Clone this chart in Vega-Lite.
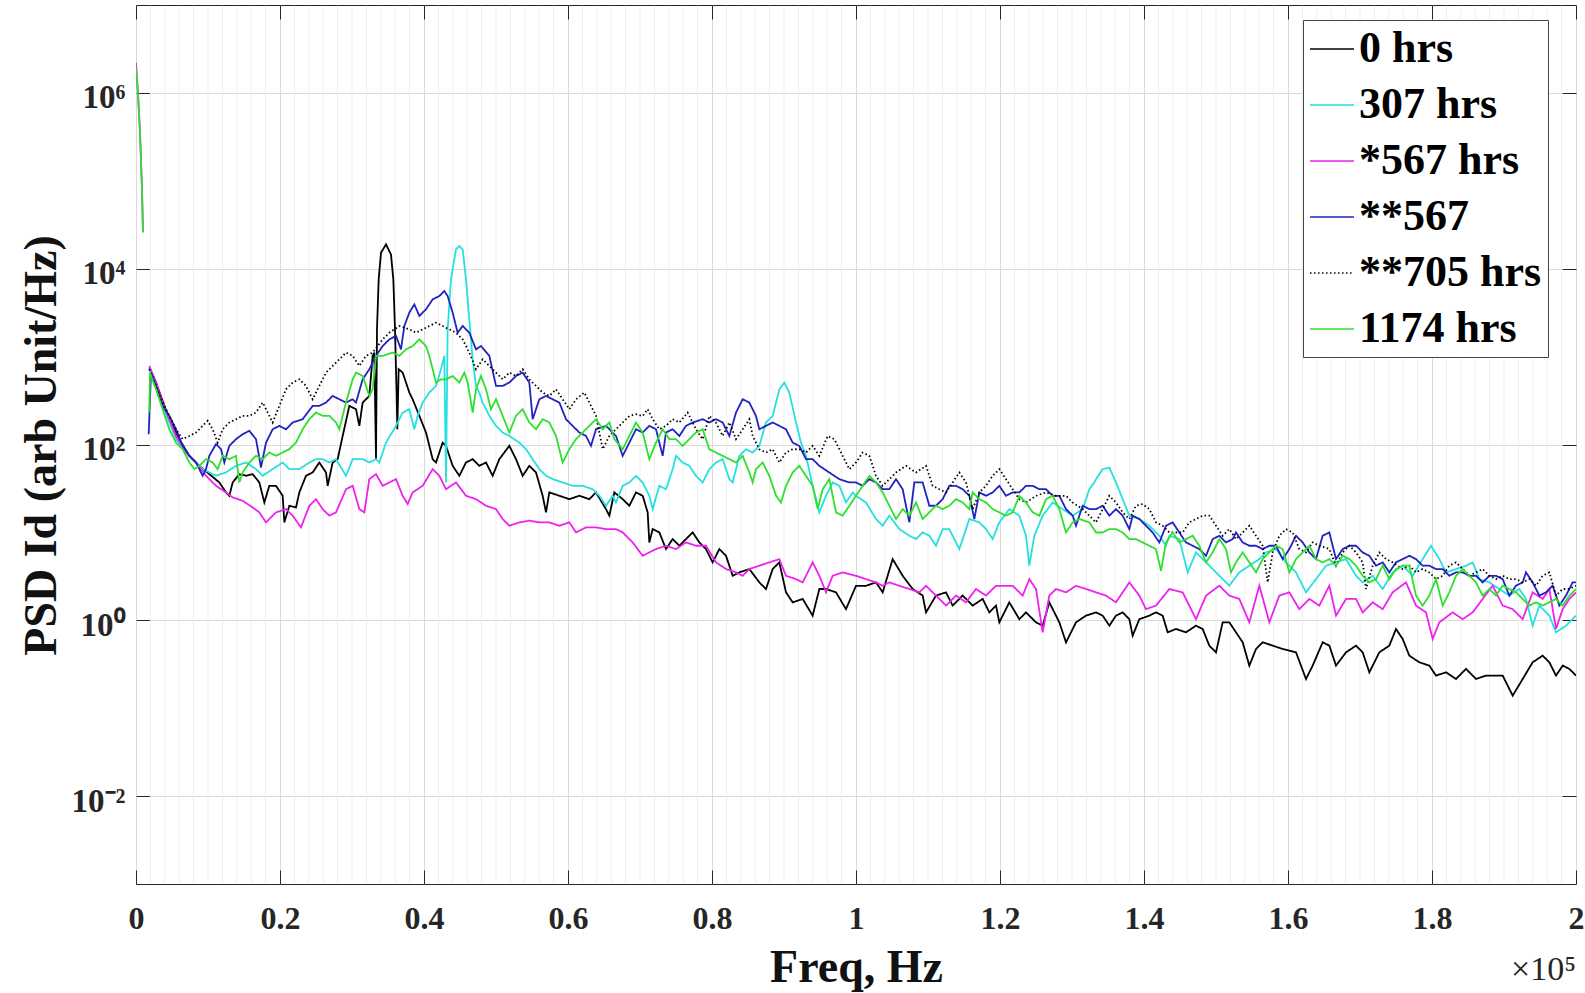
{
"$schema":"https://vega.github.io/schema/vega-lite/v6.json",
"width":1440,"height":879,
"autosize":{"type":"none"},
"padding":{"left":136,"top":5,"right":9,"bottom":109},
"background":"white",
"datasets":{
"grid":[{"g":2000},{"g":4000},{"g":6000},{"g":8000},{"g":10000},{"g":12000},{"g":14000},{"g":16000},{"g":18000},{"g":22000},{"g":24000},{"g":26000},{"g":28000},{"g":30000},{"g":32000},{"g":34000},{"g":36000},{"g":38000},{"g":42000},{"g":44000},{"g":46000},{"g":48000},{"g":50000},{"g":52000},{"g":54000},{"g":56000},{"g":58000},{"g":62000},{"g":64000},{"g":66000},{"g":68000},{"g":70000},{"g":72000},{"g":74000},{"g":76000},{"g":78000},{"g":82000},{"g":84000},{"g":86000},{"g":88000},{"g":90000},{"g":92000},{"g":94000},{"g":96000},{"g":98000},{"g":102000},{"g":104000},{"g":106000},{"g":108000},{"g":110000},{"g":112000},{"g":114000},{"g":116000},{"g":118000},{"g":122000},{"g":124000},{"g":126000},{"g":128000},{"g":130000},{"g":132000},{"g":134000},{"g":136000},{"g":138000},{"g":142000},{"g":144000},{"g":146000},{"g":148000},{"g":150000},{"g":152000},{"g":154000},{"g":156000},{"g":158000},{"g":162000},{"g":164000},{"g":166000},{"g":168000},{"g":170000},{"g":172000},{"g":174000},{"g":176000},{"g":178000},{"g":182000},{"g":184000},{"g":186000},{"g":188000},{"g":190000},{"g":192000},{"g":194000},{"g":196000},{"g":198000}],
"note":[{"t":"×10⁵"}],
"psd":[
{"s":"0 hrs","f":1852,"v":750},{"s":"0 hrs","f":2778,"v":507},{"s":"0 hrs","f":4630,"v":194},{"s":"0 hrs","f":6019,"v":115},{"s":"0 hrs","f":7407,"v":74.3},{"s":"0 hrs","f":8796,"v":57.2},{"s":"0 hrs","f":10185,"v":46},{"s":"0 hrs","f":11574,"v":37},{"s":"0 hrs","f":12500,"v":28.5},{"s":"0 hrs","f":12963,"v":26.1},{"s":"0 hrs","f":13426,"v":37},{"s":"0 hrs","f":14352,"v":46},{"s":"0 hrs","f":15278,"v":44.1},{"s":"0 hrs","f":16204,"v":46},{"s":"0 hrs","f":17130,"v":37},{"s":"0 hrs","f":17824,"v":21.9},{"s":"0 hrs","f":18519,"v":33.9},{"s":"0 hrs","f":19444,"v":33.9},{"s":"0 hrs","f":20370,"v":26.1},{"s":"0 hrs","f":20602,"v":13},{"s":"0 hrs","f":21296,"v":20.1},{"s":"0 hrs","f":22222,"v":19.2},{"s":"0 hrs","f":22685,"v":28.5},{"s":"0 hrs","f":23611,"v":44.1},{"s":"0 hrs","f":24537,"v":48.1},{"s":"0 hrs","f":25463,"v":62.4},{"s":"0 hrs","f":26389,"v":48.1},{"s":"0 hrs","f":26620,"v":33.9},{"s":"0 hrs","f":27315,"v":62.4},{"s":"0 hrs","f":28009,"v":68.1},{"s":"0 hrs","f":28704,"v":125},{"s":"0 hrs","f":29630,"v":275},{"s":"0 hrs","f":30556,"v":252},{"s":"0 hrs","f":31019,"v":163},{"s":"0 hrs","f":31481,"v":300},{"s":"0 hrs","f":32407,"v":357},{"s":"0 hrs","f":32870,"v":1020},{"s":"0 hrs","f":33102,"v":1110},{"s":"0 hrs","f":33333,"v":68.1},{"s":"0 hrs","f":33472,"v":2040},{"s":"0 hrs","f":33703,"v":7560},{"s":"0 hrs","f":34027,"v":15200},{"s":"0 hrs","f":34722,"v":18900},{"s":"0 hrs","f":35416,"v":14500},{"s":"0 hrs","f":35740,"v":7560},{"s":"0 hrs","f":35972,"v":2040},{"s":"0 hrs","f":36203,"v":357},{"s":"0 hrs","f":36296,"v":149},{"s":"0 hrs","f":36481,"v":718},{"s":"0 hrs","f":37037,"v":658},{"s":"0 hrs","f":37500,"v":507},{"s":"0 hrs","f":37963,"v":390},{"s":"0 hrs","f":38426,"v":327},{"s":"0 hrs","f":39352,"v":212},{"s":"0 hrs","f":40277,"v":137},{"s":"0 hrs","f":41203,"v":68.1},{"s":"0 hrs","f":41666,"v":62.4},{"s":"0 hrs","f":42592,"v":105},{"s":"0 hrs","f":43055,"v":96.6},{"s":"0 hrs","f":43981,"v":57.2},{"s":"0 hrs","f":44907,"v":44.1},{"s":"0 hrs","f":45833,"v":62.4},{"s":"0 hrs","f":46759,"v":68.1},{"s":"0 hrs","f":47685,"v":57.2},{"s":"0 hrs","f":48611,"v":62.4},{"s":"0 hrs","f":49537,"v":44.1},{"s":"0 hrs","f":50463,"v":68.1},{"s":"0 hrs","f":51852,"v":96.6},{"s":"0 hrs","f":52777,"v":68.1},{"s":"0 hrs","f":53703,"v":44.1},{"s":"0 hrs","f":54629,"v":57.2},{"s":"0 hrs","f":55555,"v":48.1},{"s":"0 hrs","f":56481,"v":26.1},{"s":"0 hrs","f":56944,"v":16.9},{"s":"0 hrs","f":57407,"v":28.5},{"s":"0 hrs","f":58796,"v":26.1},{"s":"0 hrs","f":60185,"v":23.9},{"s":"0 hrs","f":61574,"v":26.1},{"s":"0 hrs","f":62963,"v":23.9},{"s":"0 hrs","f":63889,"v":28.5},{"s":"0 hrs","f":65277,"v":18.4},{"s":"0 hrs","f":65740,"v":15.5},{"s":"0 hrs","f":66435,"v":28.5},{"s":"0 hrs","f":67593,"v":23.9},{"s":"0 hrs","f":68519,"v":20.1},{"s":"0 hrs","f":69445,"v":28.5},{"s":"0 hrs","f":70371,"v":26.1},{"s":"0 hrs","f":71065,"v":16.9},{"s":"0 hrs","f":71297,"v":7.69},{"s":"0 hrs","f":71760,"v":10.9},{"s":"0 hrs","f":72686,"v":10},{"s":"0 hrs","f":73611,"v":6.46},{"s":"0 hrs","f":74537,"v":8.4},{"s":"0 hrs","f":75463,"v":7.05},{"s":"0 hrs","f":76389,"v":8.4},{"s":"0 hrs","f":77315,"v":10},{"s":"0 hrs","f":78241,"v":7.69},{"s":"0 hrs","f":79167,"v":6.46},{"s":"0 hrs","f":80093,"v":4.56},{"s":"0 hrs","f":81019,"v":6.46},{"s":"0 hrs","f":81945,"v":5.42},{"s":"0 hrs","f":82871,"v":3.21},{"s":"0 hrs","f":83797,"v":3.51},{"s":"0 hrs","f":85186,"v":3.83},{"s":"0 hrs","f":86574,"v":2.7},{"s":"0 hrs","f":87500,"v":2.27},{"s":"0 hrs","f":88426,"v":3.83},{"s":"0 hrs","f":89352,"v":4.56},{"s":"0 hrs","f":90278,"v":2.08},{"s":"0 hrs","f":91204,"v":1.6},{"s":"0 hrs","f":92593,"v":1.75},{"s":"0 hrs","f":93982,"v":1.13},{"s":"0 hrs","f":94908,"v":2.27},{"s":"0 hrs","f":95834,"v":2.27},{"s":"0 hrs","f":97223,"v":2.08},{"s":"0 hrs","f":98611,"v":1.34},{"s":"0 hrs","f":100000,"v":2.47},{"s":"0 hrs","f":101389,"v":2.47},{"s":"0 hrs","f":102778,"v":2.7},{"s":"0 hrs","f":103704,"v":2.08},{"s":"0 hrs","f":105093,"v":4.97},{"s":"0 hrs","f":106481,"v":3.21},{"s":"0 hrs","f":107870,"v":2.27},{"s":"0 hrs","f":109259,"v":1.91},{"s":"0 hrs","f":109722,"v":1.23},{"s":"0 hrs","f":111111,"v":1.91},{"s":"0 hrs","f":112500,"v":2.08},{"s":"0 hrs","f":113426,"v":1.47},{"s":"0 hrs","f":114815,"v":1.91},{"s":"0 hrs","f":116204,"v":1.47},{"s":"0 hrs","f":117593,"v":1.75},{"s":"0 hrs","f":118519,"v":1.23},{"s":"0 hrs","f":119444,"v":1.47},{"s":"0 hrs","f":119907,"v":0.948},{"s":"0 hrs","f":121296,"v":1.6},{"s":"0 hrs","f":122685,"v":1.03},{"s":"0 hrs","f":123611,"v":1.23},{"s":"0 hrs","f":125000,"v":0.948},{"s":"0 hrs","f":125926,"v":0.869},{"s":"0 hrs","f":126852,"v":1.6},{"s":"0 hrs","f":128241,"v":0.948},{"s":"0 hrs","f":129167,"v":0.561},{"s":"0 hrs","f":130556,"v":0.948},{"s":"0 hrs","f":131944,"v":1.13},{"s":"0 hrs","f":133333,"v":1.23},{"s":"0 hrs","f":134259,"v":1.13},{"s":"0 hrs","f":135185,"v":0.869},{"s":"0 hrs","f":136111,"v":1.13},{"s":"0 hrs","f":137037,"v":1.23},{"s":"0 hrs","f":137963,"v":1.03},{"s":"0 hrs","f":138426,"v":0.669},{"s":"0 hrs","f":139352,"v":1.03},{"s":"0 hrs","f":140741,"v":1.13},{"s":"0 hrs","f":141667,"v":1.23},{"s":"0 hrs","f":142593,"v":1.13},{"s":"0 hrs","f":143287,"v":0.73},{"s":"0 hrs","f":144444,"v":0.796},{"s":"0 hrs","f":145833,"v":0.73},{"s":"0 hrs","f":147222,"v":0.869},{"s":"0 hrs","f":148148,"v":0.796},{"s":"0 hrs","f":149074,"v":0.515},{"s":"0 hrs","f":150000,"v":0.432},{"s":"0 hrs","f":150926,"v":0.948},{"s":"0 hrs","f":151852,"v":0.948},{"s":"0 hrs","f":152778,"v":0.73},{"s":"0 hrs","f":153704,"v":0.562},{"s":"0 hrs","f":154630,"v":0.305},{"s":"0 hrs","f":155556,"v":0.472},{"s":"0 hrs","f":156481,"v":0.562},{"s":"0 hrs","f":157870,"v":0.515},{"s":"0 hrs","f":159259,"v":0.472},{"s":"0 hrs","f":161111,"v":0.432},{"s":"0 hrs","f":162500,"v":0.215},{"s":"0 hrs","f":163426,"v":0.305},{"s":"0 hrs","f":164815,"v":0.562},{"s":"0 hrs","f":165741,"v":0.515},{"s":"0 hrs","f":166667,"v":0.305},{"s":"0 hrs","f":168056,"v":0.432},{"s":"0 hrs","f":169445,"v":0.515},{"s":"0 hrs","f":170371,"v":0.432},{"s":"0 hrs","f":171297,"v":0.256},{"s":"0 hrs","f":172686,"v":0.432},{"s":"0 hrs","f":174074,"v":0.515},{"s":"0 hrs","f":175000,"v":0.796},{"s":"0 hrs","f":175926,"v":0.613},{"s":"0 hrs","f":176852,"v":0.396},{"s":"0 hrs","f":178241,"v":0.333},{"s":"0 hrs","f":179630,"v":0.305},{"s":"0 hrs","f":180556,"v":0.235},{"s":"0 hrs","f":181945,"v":0.256},{"s":"0 hrs","f":183334,"v":0.215},{"s":"0 hrs","f":184723,"v":0.28},{"s":"0 hrs","f":186111,"v":0.215},{"s":"0 hrs","f":187500,"v":0.235},{"s":"0 hrs","f":189815,"v":0.235},{"s":"0 hrs","f":191204,"v":0.139},{"s":"0 hrs","f":192593,"v":0.215},{"s":"0 hrs","f":193982,"v":0.333},{"s":"0 hrs","f":195371,"v":0.396},{"s":"0 hrs","f":196297,"v":0.333},{"s":"0 hrs","f":197223,"v":0.235},{"s":"0 hrs","f":198149,"v":0.305},{"s":"0 hrs","f":199074,"v":0.28},{"s":"0 hrs","f":200000,"v":0.235},
{"s":"307 hrs","f":1852,"v":718},{"s":"307 hrs","f":3704,"v":275},{"s":"307 hrs","f":5556,"v":115},{"s":"307 hrs","f":7407,"v":74.3},{"s":"307 hrs","f":9259,"v":52.5},{"s":"307 hrs","f":11111,"v":44.1},{"s":"307 hrs","f":12500,"v":48.1},{"s":"307 hrs","f":13889,"v":57.2},{"s":"307 hrs","f":15278,"v":62.4},{"s":"307 hrs","f":16667,"v":52.5},{"s":"307 hrs","f":17593,"v":44.1},{"s":"307 hrs","f":18981,"v":52.5},{"s":"307 hrs","f":20370,"v":62.4},{"s":"307 hrs","f":21296,"v":52.5},{"s":"307 hrs","f":22685,"v":52.5},{"s":"307 hrs","f":24074,"v":62.4},{"s":"307 hrs","f":25000,"v":68.1},{"s":"307 hrs","f":25926,"v":68.1},{"s":"307 hrs","f":26852,"v":62.4},{"s":"307 hrs","f":27778,"v":68.1},{"s":"307 hrs","f":29167,"v":44.1},{"s":"307 hrs","f":30093,"v":68.1},{"s":"307 hrs","f":31481,"v":68.1},{"s":"307 hrs","f":32407,"v":62.4},{"s":"307 hrs","f":33333,"v":68.1},{"s":"307 hrs","f":33796,"v":62.4},{"s":"307 hrs","f":34722,"v":105},{"s":"307 hrs","f":36111,"v":163},{"s":"307 hrs","f":37037,"v":231},{"s":"307 hrs","f":37963,"v":252},{"s":"307 hrs","f":38657,"v":149},{"s":"307 hrs","f":39120,"v":212},{"s":"307 hrs","f":39814,"v":300},{"s":"307 hrs","f":40740,"v":390},{"s":"307 hrs","f":41666,"v":464},{"s":"307 hrs","f":42361,"v":718},{"s":"307 hrs","f":42824,"v":1020},{"s":"307 hrs","f":43055,"v":37},{"s":"307 hrs","f":43287,"v":2040},{"s":"307 hrs","f":43750,"v":7560},{"s":"307 hrs","f":44444,"v":16600},{"s":"307 hrs","f":44907,"v":18100},{"s":"307 hrs","f":45370,"v":16600},{"s":"307 hrs","f":45833,"v":7560},{"s":"307 hrs","f":46296,"v":2650},{"s":"307 hrs","f":46759,"v":932},{"s":"307 hrs","f":47222,"v":464},{"s":"307 hrs","f":47685,"v":390},{"s":"307 hrs","f":48148,"v":300},{"s":"307 hrs","f":49074,"v":212},{"s":"307 hrs","f":50000,"v":163},{"s":"307 hrs","f":50926,"v":137},{"s":"307 hrs","f":51852,"v":125},{"s":"307 hrs","f":53240,"v":105},{"s":"307 hrs","f":54166,"v":88.5},{"s":"307 hrs","f":55092,"v":68.1},{"s":"307 hrs","f":56018,"v":52.5},{"s":"307 hrs","f":56944,"v":44.1},{"s":"307 hrs","f":57870,"v":40.4},{"s":"307 hrs","f":59259,"v":37},{"s":"307 hrs","f":60648,"v":33.9},{"s":"307 hrs","f":62037,"v":33.9},{"s":"307 hrs","f":63426,"v":31},{"s":"307 hrs","f":64352,"v":26.1},{"s":"307 hrs","f":65277,"v":20.1},{"s":"307 hrs","f":66203,"v":26.1},{"s":"307 hrs","f":66667,"v":21.9},{"s":"307 hrs","f":67593,"v":33.9},{"s":"307 hrs","f":68519,"v":37},{"s":"307 hrs","f":69445,"v":44},{"s":"307 hrs","f":70371,"v":37},{"s":"307 hrs","f":71297,"v":26.1},{"s":"307 hrs","f":71760,"v":18.4},{"s":"307 hrs","f":72686,"v":33.9},{"s":"307 hrs","f":73611,"v":31},{"s":"307 hrs","f":74537,"v":52.4},{"s":"307 hrs","f":75000,"v":74.3},{"s":"307 hrs","f":75926,"v":62.4},{"s":"307 hrs","f":76852,"v":57.2},{"s":"307 hrs","f":77778,"v":44},{"s":"307 hrs","f":78704,"v":37},{"s":"307 hrs","f":79630,"v":52.4},{"s":"307 hrs","f":80556,"v":62.4},{"s":"307 hrs","f":81482,"v":68.1},{"s":"307 hrs","f":82408,"v":40.3},{"s":"307 hrs","f":82871,"v":37},{"s":"307 hrs","f":83797,"v":74.3},{"s":"307 hrs","f":84723,"v":88.3},{"s":"307 hrs","f":85648,"v":81},{"s":"307 hrs","f":86574,"v":96.4},{"s":"307 hrs","f":87500,"v":178},{"s":"307 hrs","f":88426,"v":211},{"s":"307 hrs","f":89352,"v":425},{"s":"307 hrs","f":90047,"v":506},{"s":"307 hrs","f":90741,"v":389},{"s":"307 hrs","f":91667,"v":178},{"s":"307 hrs","f":92361,"v":105},{"s":"307 hrs","f":93056,"v":74.3},{"s":"307 hrs","f":93982,"v":33.9},{"s":"307 hrs","f":94908,"v":16.9},{"s":"307 hrs","f":95834,"v":26.1},{"s":"307 hrs","f":96760,"v":37},{"s":"307 hrs","f":97686,"v":33.9},{"s":"307 hrs","f":98611,"v":21.9},{"s":"307 hrs","f":99537,"v":28.5},{"s":"307 hrs","f":100000,"v":26.1},{"s":"307 hrs","f":101389,"v":21.9},{"s":"307 hrs","f":102778,"v":14.2},{"s":"307 hrs","f":103704,"v":11.9},{"s":"307 hrs","f":104630,"v":15.5},{"s":"307 hrs","f":106019,"v":10.9},{"s":"307 hrs","f":107407,"v":9.16},{"s":"307 hrs","f":108333,"v":8.4},{"s":"307 hrs","f":109259,"v":10},{"s":"307 hrs","f":110185,"v":9.16},{"s":"307 hrs","f":111111,"v":7.05},{"s":"307 hrs","f":112037,"v":10.9},{"s":"307 hrs","f":112963,"v":10.9},{"s":"307 hrs","f":114352,"v":6.46},{"s":"307 hrs","f":115741,"v":14.2},{"s":"307 hrs","f":117130,"v":13},{"s":"307 hrs","f":118056,"v":10.9},{"s":"307 hrs","f":118982,"v":8.4},{"s":"307 hrs","f":119907,"v":13},{"s":"307 hrs","f":121296,"v":18.4},{"s":"307 hrs","f":122685,"v":15.5},{"s":"307 hrs","f":123611,"v":9.16},{"s":"307 hrs","f":124074,"v":4.18},{"s":"307 hrs","f":124769,"v":9.16},{"s":"307 hrs","f":125926,"v":15.5},{"s":"307 hrs","f":127315,"v":21.9},{"s":"307 hrs","f":128704,"v":18.4},{"s":"307 hrs","f":130093,"v":15.5},{"s":"307 hrs","f":131482,"v":18.4},{"s":"307 hrs","f":132408,"v":31},{"s":"307 hrs","f":133102,"v":37},{"s":"307 hrs","f":133333,"v":40.3},{"s":"307 hrs","f":134259,"v":52.4},{"s":"307 hrs","f":135185,"v":54.7},{"s":"307 hrs","f":136111,"v":36.9},{"s":"307 hrs","f":137037,"v":23.9},{"s":"307 hrs","f":137963,"v":15.5},{"s":"307 hrs","f":139352,"v":14.2},{"s":"307 hrs","f":140741,"v":11.9},{"s":"307 hrs","f":142130,"v":9.16},{"s":"307 hrs","f":143056,"v":7.05},{"s":"307 hrs","f":143519,"v":9.16},{"s":"307 hrs","f":144907,"v":8.39},{"s":"307 hrs","f":146065,"v":3.51},{"s":"307 hrs","f":147222,"v":5.92},{"s":"307 hrs","f":148611,"v":4.56},{"s":"307 hrs","f":150000,"v":3.51},{"s":"307 hrs","f":151852,"v":2.48},{"s":"307 hrs","f":153241,"v":3.51},{"s":"307 hrs","f":154630,"v":4.18},{"s":"307 hrs","f":156019,"v":4.97},{"s":"307 hrs","f":156944,"v":5.92},{"s":"307 hrs","f":158333,"v":6.46},{"s":"307 hrs","f":159722,"v":4.56},{"s":"307 hrs","f":161111,"v":3.51},{"s":"307 hrs","f":162500,"v":2.08},{"s":"307 hrs","f":163889,"v":2.94},{"s":"307 hrs","f":165278,"v":4.18},{"s":"307 hrs","f":166667,"v":4.56},{"s":"307 hrs","f":168056,"v":4.97},{"s":"307 hrs","f":169445,"v":3.21},{"s":"307 hrs","f":170371,"v":2.7},{"s":"307 hrs","f":171760,"v":3.21},{"s":"307 hrs","f":173148,"v":2.27},{"s":"307 hrs","f":174537,"v":3.51},{"s":"307 hrs","f":175926,"v":4.18},{"s":"307 hrs","f":177315,"v":3.21},{"s":"307 hrs","f":178704,"v":4.97},{"s":"307 hrs","f":179861,"v":7.05},{"s":"307 hrs","f":181019,"v":4.97},{"s":"307 hrs","f":181945,"v":3.51},{"s":"307 hrs","f":183334,"v":3.83},{"s":"307 hrs","f":184723,"v":4.18},{"s":"307 hrs","f":185648,"v":4.56},{"s":"307 hrs","f":186574,"v":2.94},{"s":"307 hrs","f":187963,"v":2.7},{"s":"307 hrs","f":189352,"v":2.27},{"s":"307 hrs","f":190741,"v":1.91},{"s":"307 hrs","f":192130,"v":2.27},{"s":"307 hrs","f":193056,"v":1.75},{"s":"307 hrs","f":193982,"v":0.869},{"s":"307 hrs","f":194908,"v":1.47},{"s":"307 hrs","f":196297,"v":1.13},{"s":"307 hrs","f":197223,"v":0.73},{"s":"307 hrs","f":198611,"v":0.869},{"s":"307 hrs","f":200000,"v":1.13},
{"s":"*567 hrs","k":"p","f":0,"v":2200000},{"s":"*567 hrs","k":"p","f":278,"v":1000000},{"s":"*567 hrs","k":"p","f":556,"v":360000},{"s":"*567 hrs","k":"p","f":833,"v":80000},{"s":"*567 hrs","k":"p","f":972,"v":26000},
{"s":"*567 hrs","f":1852,"v":783},{"s":"*567 hrs","f":2778,"v":507},{"s":"*567 hrs","f":3704,"v":300},{"s":"*567 hrs","f":4630,"v":194},{"s":"*567 hrs","f":5556,"v":125},{"s":"*567 hrs","f":6944,"v":81.1},{"s":"*567 hrs","f":8333,"v":62.4},{"s":"*567 hrs","f":9722,"v":44.1},{"s":"*567 hrs","f":11111,"v":33.9},{"s":"*567 hrs","f":12500,"v":28.5},{"s":"*567 hrs","f":13426,"v":25},{"s":"*567 hrs","f":14815,"v":22.9},{"s":"*567 hrs","f":16204,"v":19.2},{"s":"*567 hrs","f":17130,"v":16.9},{"s":"*567 hrs","f":18056,"v":13},{"s":"*567 hrs","f":19444,"v":16.9},{"s":"*567 hrs","f":20833,"v":18.4},{"s":"*567 hrs","f":21759,"v":15.5},{"s":"*567 hrs","f":22917,"v":11.4},{"s":"*567 hrs","f":24074,"v":20.1},{"s":"*567 hrs","f":25000,"v":23.9},{"s":"*567 hrs","f":25926,"v":18.4},{"s":"*567 hrs","f":26852,"v":15.5},{"s":"*567 hrs","f":27778,"v":16.9},{"s":"*567 hrs","f":29167,"v":31},{"s":"*567 hrs","f":30093,"v":33.9},{"s":"*567 hrs","f":31019,"v":18.4},{"s":"*567 hrs","f":31713,"v":16.9},{"s":"*567 hrs","f":32407,"v":40.4},{"s":"*567 hrs","f":33333,"v":46},{"s":"*567 hrs","f":34259,"v":33.9},{"s":"*567 hrs","f":35185,"v":37},{"s":"*567 hrs","f":36111,"v":40.4},{"s":"*567 hrs","f":37037,"v":26.1},{"s":"*567 hrs","f":37731,"v":21},{"s":"*567 hrs","f":38426,"v":28.5},{"s":"*567 hrs","f":39814,"v":33.9},{"s":"*567 hrs","f":41203,"v":52.5},{"s":"*567 hrs","f":42129,"v":44.1},{"s":"*567 hrs","f":43055,"v":31},{"s":"*567 hrs","f":44444,"v":37},{"s":"*567 hrs","f":45833,"v":26.1},{"s":"*567 hrs","f":47222,"v":23.9},{"s":"*567 hrs","f":48611,"v":20.1},{"s":"*567 hrs","f":50000,"v":18.4},{"s":"*567 hrs","f":50926,"v":14.2},{"s":"*567 hrs","f":51852,"v":11.9},{"s":"*567 hrs","f":53240,"v":13},{"s":"*567 hrs","f":54629,"v":13.6},{"s":"*567 hrs","f":56018,"v":13},{"s":"*567 hrs","f":57407,"v":13},{"s":"*567 hrs","f":58796,"v":11.9},{"s":"*567 hrs","f":60185,"v":13},{"s":"*567 hrs","f":61111,"v":10},{"s":"*567 hrs","f":62500,"v":11.4},{"s":"*567 hrs","f":63889,"v":11.4},{"s":"*567 hrs","f":65277,"v":10.9},{"s":"*567 hrs","f":66667,"v":10.9},{"s":"*567 hrs","f":67593,"v":10},{"s":"*567 hrs","f":68982,"v":7.69},{"s":"*567 hrs","f":70371,"v":5.42},{"s":"*567 hrs","f":71297,"v":5.92},{"s":"*567 hrs","f":72223,"v":6.46},{"s":"*567 hrs","f":73611,"v":7.05},{"s":"*567 hrs","f":75000,"v":6.46},{"s":"*567 hrs","f":76389,"v":7.69},{"s":"*567 hrs","f":77778,"v":7.05},{"s":"*567 hrs","f":79167,"v":7.05},{"s":"*567 hrs","f":80556,"v":4.56},{"s":"*567 hrs","f":81945,"v":3.83},{"s":"*567 hrs","f":83334,"v":3.51},{"s":"*567 hrs","f":84260,"v":3.21},{"s":"*567 hrs","f":85186,"v":3.83},{"s":"*567 hrs","f":86574,"v":4.18},{"s":"*567 hrs","f":87963,"v":4.56},{"s":"*567 hrs","f":89352,"v":4.97},{"s":"*567 hrs","f":90278,"v":3.21},{"s":"*567 hrs","f":91667,"v":2.94},{"s":"*567 hrs","f":92593,"v":2.7},{"s":"*567 hrs","f":93982,"v":4.56},{"s":"*567 hrs","f":94908,"v":3.21},{"s":"*567 hrs","f":95834,"v":2.08},{"s":"*567 hrs","f":96760,"v":3.21},{"s":"*567 hrs","f":98149,"v":3.51},{"s":"*567 hrs","f":100000,"v":3.21},{"s":"*567 hrs","f":101389,"v":2.94},{"s":"*567 hrs","f":102778,"v":2.7},{"s":"*567 hrs","f":103704,"v":2.47},{"s":"*567 hrs","f":104630,"v":2.7},{"s":"*567 hrs","f":106019,"v":2.47},{"s":"*567 hrs","f":107407,"v":2.27},{"s":"*567 hrs","f":108796,"v":2.08},{"s":"*567 hrs","f":109722,"v":2.47},{"s":"*567 hrs","f":111111,"v":1.91},{"s":"*567 hrs","f":112500,"v":1.47},{"s":"*567 hrs","f":113889,"v":1.91},{"s":"*567 hrs","f":115278,"v":1.6},{"s":"*567 hrs","f":116667,"v":2.27},{"s":"*567 hrs","f":118056,"v":1.91},{"s":"*567 hrs","f":119444,"v":2.47},{"s":"*567 hrs","f":120370,"v":2.47},{"s":"*567 hrs","f":121759,"v":2.47},{"s":"*567 hrs","f":123148,"v":1.91},{"s":"*567 hrs","f":124074,"v":2.94},{"s":"*567 hrs","f":125000,"v":2.27},{"s":"*567 hrs","f":125926,"v":0.73},{"s":"*567 hrs","f":126852,"v":1.91},{"s":"*567 hrs","f":127778,"v":2.27},{"s":"*567 hrs","f":129167,"v":2.08},{"s":"*567 hrs","f":130556,"v":2.47},{"s":"*567 hrs","f":131944,"v":2.27},{"s":"*567 hrs","f":133333,"v":2.08},{"s":"*567 hrs","f":134722,"v":1.91},{"s":"*567 hrs","f":136111,"v":1.6},{"s":"*567 hrs","f":137963,"v":2.7},{"s":"*567 hrs","f":139352,"v":1.91},{"s":"*567 hrs","f":140278,"v":1.34},{"s":"*567 hrs","f":141667,"v":1.47},{"s":"*567 hrs","f":143519,"v":2.27},{"s":"*567 hrs","f":145370,"v":2.08},{"s":"*567 hrs","f":147222,"v":1.03},{"s":"*567 hrs","f":148611,"v":1.91},{"s":"*567 hrs","f":150463,"v":2.48},{"s":"*567 hrs","f":151852,"v":1.91},{"s":"*567 hrs","f":153241,"v":1.75},{"s":"*567 hrs","f":154630,"v":0.948},{"s":"*567 hrs","f":156019,"v":2.48},{"s":"*567 hrs","f":157407,"v":0.948},{"s":"*567 hrs","f":158796,"v":1.91},{"s":"*567 hrs","f":160185,"v":2.08},{"s":"*567 hrs","f":161574,"v":1.34},{"s":"*567 hrs","f":162963,"v":1.75},{"s":"*567 hrs","f":164352,"v":1.47},{"s":"*567 hrs","f":165741,"v":2.48},{"s":"*567 hrs","f":166667,"v":1.13},{"s":"*567 hrs","f":168056,"v":1.75},{"s":"*567 hrs","f":169445,"v":1.75},{"s":"*567 hrs","f":170371,"v":1.23},{"s":"*567 hrs","f":171760,"v":1.6},{"s":"*567 hrs","f":173148,"v":1.34},{"s":"*567 hrs","f":174537,"v":2.08},{"s":"*567 hrs","f":176389,"v":2.7},{"s":"*567 hrs","f":177778,"v":1.47},{"s":"*567 hrs","f":179167,"v":1.23},{"s":"*567 hrs","f":180093,"v":0.613},{"s":"*567 hrs","f":181019,"v":0.948},{"s":"*567 hrs","f":182871,"v":1.23},{"s":"*567 hrs","f":184260,"v":1.03},{"s":"*567 hrs","f":185648,"v":1.23},{"s":"*567 hrs","f":187037,"v":1.75},{"s":"*567 hrs","f":188426,"v":2.48},{"s":"*567 hrs","f":189815,"v":1.47},{"s":"*567 hrs","f":191204,"v":1.34},{"s":"*567 hrs","f":192593,"v":1.03},{"s":"*567 hrs","f":193982,"v":2.08},{"s":"*567 hrs","f":195371,"v":1.75},{"s":"*567 hrs","f":196297,"v":2.27},{"s":"*567 hrs","f":197223,"v":0.8},{"s":"*567 hrs","f":198149,"v":1.34},{"s":"*567 hrs","f":199074,"v":1.75},{"s":"*567 hrs","f":200000,"v":2.08},
{"s":"**567","f":1759,"v":131},{"s":"**567","f":2083,"v":658},{"s":"**567","f":2778,"v":464},{"s":"**567","f":3704,"v":275},{"s":"**567","f":4630,"v":212},{"s":"**567","f":5556,"v":149},{"s":"**567","f":6481,"v":96.6},{"s":"**567","f":7407,"v":74.3},{"s":"**567","f":8333,"v":62.4},{"s":"**567","f":9259,"v":44.1},{"s":"**567","f":9722,"v":52.5},{"s":"**567","f":10185,"v":74.3},{"s":"**567","f":11111,"v":101},{"s":"**567","f":11806,"v":88.5},{"s":"**567","f":12269,"v":62.4},{"s":"**567","f":12963,"v":96.6},{"s":"**567","f":13889,"v":115},{"s":"**567","f":14815,"v":131},{"s":"**567","f":15741,"v":143},{"s":"**567","f":16667,"v":115},{"s":"**567","f":17361,"v":54.7},{"s":"**567","f":18056,"v":105},{"s":"**567","f":18981,"v":149},{"s":"**567","f":19907,"v":163},{"s":"**567","f":20833,"v":149},{"s":"**567","f":21759,"v":178},{"s":"**567","f":23148,"v":194},{"s":"**567","f":24537,"v":275},{"s":"**567","f":25463,"v":275},{"s":"**567","f":26389,"v":300},{"s":"**567","f":27315,"v":357},{"s":"**567","f":28241,"v":327},{"s":"**567","f":29167,"v":300},{"s":"**567","f":30093,"v":327},{"s":"**567","f":30556,"v":300},{"s":"**567","f":31481,"v":552},{"s":"**567","f":32407,"v":718},{"s":"**567","f":33333,"v":1020},{"s":"**567","f":34259,"v":1320},{"s":"**567","f":35185,"v":1570},{"s":"**567","f":36111,"v":1720},{"s":"**567","f":36805,"v":1210},{"s":"**567","f":37268,"v":2230},{"s":"**567","f":37963,"v":3160},{"s":"**567","f":38657,"v":3930},{"s":"**567","f":39352,"v":2900},{"s":"**567","f":40277,"v":3450},{"s":"**567","f":41203,"v":4480},{"s":"**567","f":42129,"v":4880},{"s":"**567","f":42824,"v":5570},{"s":"**567","f":43287,"v":4880},{"s":"**567","f":43981,"v":3160},{"s":"**567","f":44676,"v":1870},{"s":"**567","f":45370,"v":2230},{"s":"**567","f":46296,"v":1870},{"s":"**567","f":47222,"v":1210},{"s":"**567","f":47916,"v":1320},{"s":"**567","f":49074,"v":1020},{"s":"**567","f":50000,"v":464},{"s":"**567","f":50926,"v":464},{"s":"**567","f":51852,"v":507},{"s":"**567","f":52777,"v":602},{"s":"**567","f":53703,"v":658},{"s":"**567","f":54629,"v":507},{"s":"**567","f":55092,"v":194},{"s":"**567","f":56018,"v":327},{"s":"**567","f":56944,"v":357},{"s":"**567","f":57870,"v":327},{"s":"**567","f":58796,"v":300},{"s":"**567","f":59722,"v":194},{"s":"**567","f":60648,"v":163},{"s":"**567","f":61574,"v":137},{"s":"**567","f":62500,"v":125},{"s":"**567","f":63194,"v":96.6},{"s":"**567","f":63889,"v":149},{"s":"**567","f":65277,"v":163},{"s":"**567","f":66667,"v":125},{"s":"**567","f":67593,"v":74.3},{"s":"**567","f":68519,"v":105},{"s":"**567","f":69445,"v":149},{"s":"**567","f":70371,"v":137},{"s":"**567","f":71297,"v":163},{"s":"**567","f":72223,"v":149},{"s":"**567","f":73149,"v":74.3},{"s":"**567","f":73611,"v":137},{"s":"**567","f":74537,"v":149},{"s":"**567","f":75463,"v":125},{"s":"**567","f":76389,"v":163},{"s":"**567","f":77315,"v":178},{"s":"**567","f":78704,"v":194},{"s":"**567","f":79630,"v":178},{"s":"**567","f":80556,"v":194},{"s":"**567","f":81482,"v":178},{"s":"**567","f":82408,"v":125},{"s":"**567","f":83334,"v":231},{"s":"**567","f":84260,"v":327},{"s":"**567","f":85186,"v":300},{"s":"**567","f":86112,"v":211},{"s":"**567","f":86574,"v":149},{"s":"**567","f":87500,"v":163},{"s":"**567","f":88426,"v":178},{"s":"**567","f":89352,"v":163},{"s":"**567","f":90278,"v":149},{"s":"**567","f":91204,"v":105},{"s":"**567","f":92130,"v":96.4},{"s":"**567","f":93056,"v":68.1},{"s":"**567","f":93982,"v":68.1},{"s":"**567","f":94908,"v":57.2},{"s":"**567","f":96297,"v":48},{"s":"**567","f":97686,"v":40.3},{"s":"**567","f":99074,"v":37},{"s":"**567","f":100000,"v":37},{"s":"**567","f":100926,"v":33.9},{"s":"**567","f":101852,"v":40.3},{"s":"**567","f":102778,"v":37},{"s":"**567","f":103704,"v":31},{"s":"**567","f":104630,"v":31},{"s":"**567","f":105556,"v":40.3},{"s":"**567","f":106481,"v":31},{"s":"**567","f":107407,"v":13},{"s":"**567","f":108102,"v":37},{"s":"**567","f":109259,"v":37},{"s":"**567","f":110185,"v":20.1},{"s":"**567","f":111111,"v":20.1},{"s":"**567","f":112037,"v":23.9},{"s":"**567","f":112963,"v":33.9},{"s":"**567","f":113889,"v":33.9},{"s":"**567","f":114815,"v":31},{"s":"**567","f":115741,"v":26.1},{"s":"**567","f":116435,"v":14.2},{"s":"**567","f":117130,"v":28.5},{"s":"**567","f":118056,"v":26.1},{"s":"**567","f":118982,"v":28.5},{"s":"**567","f":119907,"v":33.9},{"s":"**567","f":120833,"v":26.1},{"s":"**567","f":121759,"v":28.5},{"s":"**567","f":122685,"v":28.5},{"s":"**567","f":123611,"v":33.9},{"s":"**567","f":124537,"v":33.9},{"s":"**567","f":125463,"v":31},{"s":"**567","f":126389,"v":31},{"s":"**567","f":127315,"v":26.1},{"s":"**567","f":128241,"v":26.1},{"s":"**567","f":129167,"v":18.4},{"s":"**567","f":130093,"v":15.5},{"s":"**567","f":130556,"v":11.9},{"s":"**567","f":131482,"v":20.1},{"s":"**567","f":132408,"v":18.4},{"s":"**567","f":133333,"v":18.4},{"s":"**567","f":134259,"v":20.1},{"s":"**567","f":135185,"v":15.5},{"s":"**567","f":136111,"v":18.4},{"s":"**567","f":137037,"v":15.5},{"s":"**567","f":137963,"v":10.9},{"s":"**567","f":138426,"v":15.5},{"s":"**567","f":139352,"v":14.2},{"s":"**567","f":140278,"v":11.9},{"s":"**567","f":141204,"v":9.98},{"s":"**567","f":142130,"v":7.69},{"s":"**567","f":143056,"v":11.9},{"s":"**567","f":143982,"v":13},{"s":"**567","f":144907,"v":9.98},{"s":"**567","f":145833,"v":7.69},{"s":"**567","f":146759,"v":7.05},{"s":"**567","f":147685,"v":6.46},{"s":"**567","f":148611,"v":5.42},{"s":"**567","f":149537,"v":8.39},{"s":"**567","f":150463,"v":9.16},{"s":"**567","f":151389,"v":7.69},{"s":"**567","f":152315,"v":8.39},{"s":"**567","f":152778,"v":9.98},{"s":"**567","f":153704,"v":7.69},{"s":"**567","f":154630,"v":7.05},{"s":"**567","f":155556,"v":7.05},{"s":"**567","f":156481,"v":6.46},{"s":"**567","f":157407,"v":7.05},{"s":"**567","f":158333,"v":7.05},{"s":"**567","f":159259,"v":4.97},{"s":"**567","f":160185,"v":6.46},{"s":"**567","f":161111,"v":9.16},{"s":"**567","f":162037,"v":7.69},{"s":"**567","f":162963,"v":5.92},{"s":"**567","f":163889,"v":4.97},{"s":"**567","f":164815,"v":9.16},{"s":"**567","f":165741,"v":9.98},{"s":"**567","f":166667,"v":4.97},{"s":"**567","f":167593,"v":6.46},{"s":"**567","f":168519,"v":7.05},{"s":"**567","f":169445,"v":7.05},{"s":"**567","f":170371,"v":5.92},{"s":"**567","f":171297,"v":5.42},{"s":"**567","f":172223,"v":4.18},{"s":"**567","f":173148,"v":4.56},{"s":"**567","f":174074,"v":3.51},{"s":"**567","f":175000,"v":4.56},{"s":"**567","f":175926,"v":4.97},{"s":"**567","f":176852,"v":5.42},{"s":"**567","f":177778,"v":4.97},{"s":"**567","f":178704,"v":4.18},{"s":"**567","f":179630,"v":4.18},{"s":"**567","f":180556,"v":3.83},{"s":"**567","f":181482,"v":3.83},{"s":"**567","f":182408,"v":3.21},{"s":"**567","f":183334,"v":3.51},{"s":"**567","f":184260,"v":3.51},{"s":"**567","f":185186,"v":3.21},{"s":"**567","f":186111,"v":3.21},{"s":"**567","f":187037,"v":2.7},{"s":"**567","f":187963,"v":3.21},{"s":"**567","f":188889,"v":3.21},{"s":"**567","f":189815,"v":2.94},{"s":"**567","f":190741,"v":1.91},{"s":"**567","f":191667,"v":2.48},{"s":"**567","f":192593,"v":2.7},{"s":"**567","f":193056,"v":3.51},{"s":"**567","f":193982,"v":2.7},{"s":"**567","f":194908,"v":1.91},{"s":"**567","f":195834,"v":2.08},{"s":"**567","f":196760,"v":2.48},{"s":"**567","f":197686,"v":1.47},{"s":"**567","f":198611,"v":1.91},{"s":"**567","f":199537,"v":2.7},{"s":"**567","f":200000,"v":2.7},
{"s":"**705 hrs","f":1852,"v":718},{"s":"**705 hrs","f":3704,"v":300},{"s":"**705 hrs","f":5556,"v":149},{"s":"**705 hrs","f":6481,"v":115},{"s":"**705 hrs","f":7407,"v":125},{"s":"**705 hrs","f":8333,"v":137},{"s":"**705 hrs","f":9259,"v":163},{"s":"**705 hrs","f":9954,"v":186},{"s":"**705 hrs","f":10648,"v":149},{"s":"**705 hrs","f":11343,"v":105},{"s":"**705 hrs","f":12037,"v":149},{"s":"**705 hrs","f":12963,"v":178},{"s":"**705 hrs","f":13889,"v":194},{"s":"**705 hrs","f":14815,"v":212},{"s":"**705 hrs","f":15741,"v":212},{"s":"**705 hrs","f":16667,"v":231},{"s":"**705 hrs","f":17593,"v":300},{"s":"**705 hrs","f":18287,"v":231},{"s":"**705 hrs","f":18981,"v":178},{"s":"**705 hrs","f":19907,"v":275},{"s":"**705 hrs","f":20833,"v":425},{"s":"**705 hrs","f":21759,"v":507},{"s":"**705 hrs","f":22685,"v":552},{"s":"**705 hrs","f":23611,"v":464},{"s":"**705 hrs","f":24537,"v":327},{"s":"**705 hrs","f":25463,"v":464},{"s":"**705 hrs","f":26389,"v":658},{"s":"**705 hrs","f":27315,"v":783},{"s":"**705 hrs","f":28241,"v":932},{"s":"**705 hrs","f":29167,"v":1110},{"s":"**705 hrs","f":30093,"v":1020},{"s":"**705 hrs","f":31019,"v":783},{"s":"**705 hrs","f":31944,"v":1020},{"s":"**705 hrs","f":32870,"v":1110},{"s":"**705 hrs","f":34259,"v":1570},{"s":"**705 hrs","f":35185,"v":1870},{"s":"**705 hrs","f":36574,"v":2230},{"s":"**705 hrs","f":37963,"v":2040},{"s":"**705 hrs","f":38889,"v":1870},{"s":"**705 hrs","f":39814,"v":2040},{"s":"**705 hrs","f":40740,"v":2230},{"s":"**705 hrs","f":41666,"v":2430},{"s":"**705 hrs","f":42592,"v":2230},{"s":"**705 hrs","f":43518,"v":2040},{"s":"**705 hrs","f":44444,"v":1870},{"s":"**705 hrs","f":45370,"v":1570},{"s":"**705 hrs","f":46296,"v":1110},{"s":"**705 hrs","f":47222,"v":718},{"s":"**705 hrs","f":48148,"v":932},{"s":"**705 hrs","f":49074,"v":783},{"s":"**705 hrs","f":50000,"v":658},{"s":"**705 hrs","f":50926,"v":552},{"s":"**705 hrs","f":51852,"v":658},{"s":"**705 hrs","f":52777,"v":602},{"s":"**705 hrs","f":53703,"v":718},{"s":"**705 hrs","f":54629,"v":552},{"s":"**705 hrs","f":55555,"v":464},{"s":"**705 hrs","f":56481,"v":390},{"s":"**705 hrs","f":57407,"v":357},{"s":"**705 hrs","f":58333,"v":425},{"s":"**705 hrs","f":59259,"v":327},{"s":"**705 hrs","f":60185,"v":252},{"s":"**705 hrs","f":61111,"v":327},{"s":"**705 hrs","f":62268,"v":390},{"s":"**705 hrs","f":63194,"v":275},{"s":"**705 hrs","f":63889,"v":212},{"s":"**705 hrs","f":64814,"v":88.5},{"s":"**705 hrs","f":65740,"v":125},{"s":"**705 hrs","f":66667,"v":149},{"s":"**705 hrs","f":67593,"v":178},{"s":"**705 hrs","f":68519,"v":211},{"s":"**705 hrs","f":69445,"v":221},{"s":"**705 hrs","f":70371,"v":211},{"s":"**705 hrs","f":71065,"v":252},{"s":"**705 hrs","f":71760,"v":194},{"s":"**705 hrs","f":72686,"v":149},{"s":"**705 hrs","f":73611,"v":163},{"s":"**705 hrs","f":74537,"v":194},{"s":"**705 hrs","f":75463,"v":178},{"s":"**705 hrs","f":76621,"v":231},{"s":"**705 hrs","f":77778,"v":149},{"s":"**705 hrs","f":78704,"v":115},{"s":"**705 hrs","f":79630,"v":211},{"s":"**705 hrs","f":80556,"v":178},{"s":"**705 hrs","f":81482,"v":125},{"s":"**705 hrs","f":82408,"v":178},{"s":"**705 hrs","f":83334,"v":115},{"s":"**705 hrs","f":84260,"v":149},{"s":"**705 hrs","f":85186,"v":194},{"s":"**705 hrs","f":85648,"v":125},{"s":"**705 hrs","f":86574,"v":88.3},{"s":"**705 hrs","f":87500,"v":81},{"s":"**705 hrs","f":88426,"v":88.3},{"s":"**705 hrs","f":89352,"v":62.4},{"s":"**705 hrs","f":90278,"v":81},{"s":"**705 hrs","f":91204,"v":88.3},{"s":"**705 hrs","f":92130,"v":88.3},{"s":"**705 hrs","f":93056,"v":81},{"s":"**705 hrs","f":93982,"v":96.4},{"s":"**705 hrs","f":94908,"v":74.3},{"s":"**705 hrs","f":96065,"v":125},{"s":"**705 hrs","f":96991,"v":115},{"s":"**705 hrs","f":98149,"v":74.3},{"s":"**705 hrs","f":99074,"v":52.4},{"s":"**705 hrs","f":100000,"v":62.4},{"s":"**705 hrs","f":100926,"v":81},{"s":"**705 hrs","f":101852,"v":74.3},{"s":"**705 hrs","f":102778,"v":44},{"s":"**705 hrs","f":103704,"v":33.9},{"s":"**705 hrs","f":104630,"v":40.3},{"s":"**705 hrs","f":105556,"v":48},{"s":"**705 hrs","f":106944,"v":57.2},{"s":"**705 hrs","f":108333,"v":48},{"s":"**705 hrs","f":109722,"v":57.2},{"s":"**705 hrs","f":110648,"v":33.9},{"s":"**705 hrs","f":111574,"v":31},{"s":"**705 hrs","f":112500,"v":28.5},{"s":"**705 hrs","f":113426,"v":37},{"s":"**705 hrs","f":114352,"v":48},{"s":"**705 hrs","f":115278,"v":37},{"s":"**705 hrs","f":116204,"v":18.4},{"s":"**705 hrs","f":117130,"v":28.5},{"s":"**705 hrs","f":118056,"v":33.9},{"s":"**705 hrs","f":118982,"v":44},{"s":"**705 hrs","f":119907,"v":52.4},{"s":"**705 hrs","f":120833,"v":40.3},{"s":"**705 hrs","f":121759,"v":31},{"s":"**705 hrs","f":122685,"v":23.9},{"s":"**705 hrs","f":123611,"v":21.9},{"s":"**705 hrs","f":125000,"v":26.1},{"s":"**705 hrs","f":126389,"v":28.5},{"s":"**705 hrs","f":127778,"v":26.1},{"s":"**705 hrs","f":129167,"v":26.1},{"s":"**705 hrs","f":130093,"v":21.9},{"s":"**705 hrs","f":131482,"v":18.4},{"s":"**705 hrs","f":132408,"v":15.5},{"s":"**705 hrs","f":133333,"v":13},{"s":"**705 hrs","f":134259,"v":18.4},{"s":"**705 hrs","f":135185,"v":26.1},{"s":"**705 hrs","f":136111,"v":21.9},{"s":"**705 hrs","f":137037,"v":16.9},{"s":"**705 hrs","f":137963,"v":14.2},{"s":"**705 hrs","f":138889,"v":20.1},{"s":"**705 hrs","f":139815,"v":21},{"s":"**705 hrs","f":140741,"v":18.4},{"s":"**705 hrs","f":141667,"v":13},{"s":"**705 hrs","f":142593,"v":11.9},{"s":"**705 hrs","f":143519,"v":9.98},{"s":"**705 hrs","f":144444,"v":9.98},{"s":"**705 hrs","f":145370,"v":9.98},{"s":"**705 hrs","f":146296,"v":13},{"s":"**705 hrs","f":147222,"v":14.2},{"s":"**705 hrs","f":148148,"v":15.5},{"s":"**705 hrs","f":149074,"v":15.5},{"s":"**705 hrs","f":150000,"v":11.9},{"s":"**705 hrs","f":150926,"v":9.16},{"s":"**705 hrs","f":151852,"v":10.9},{"s":"**705 hrs","f":152778,"v":8.39},{"s":"**705 hrs","f":153704,"v":9.98},{"s":"**705 hrs","f":154630,"v":11.9},{"s":"**705 hrs","f":155556,"v":9.16},{"s":"**705 hrs","f":156481,"v":7.05},{"s":"**705 hrs","f":157176,"v":2.7},{"s":"**705 hrs","f":157870,"v":5.92},{"s":"**705 hrs","f":158796,"v":9.16},{"s":"**705 hrs","f":159722,"v":10.9},{"s":"**705 hrs","f":160648,"v":9.98},{"s":"**705 hrs","f":161574,"v":6.46},{"s":"**705 hrs","f":162500,"v":5.92},{"s":"**705 hrs","f":163426,"v":7.69},{"s":"**705 hrs","f":164352,"v":7.05},{"s":"**705 hrs","f":165741,"v":6.46},{"s":"**705 hrs","f":166667,"v":4.18},{"s":"**705 hrs","f":167593,"v":5.92},{"s":"**705 hrs","f":168519,"v":7.05},{"s":"**705 hrs","f":169445,"v":5.92},{"s":"**705 hrs","f":170371,"v":4.56},{"s":"**705 hrs","f":170834,"v":2.27},{"s":"**705 hrs","f":171760,"v":4.18},{"s":"**705 hrs","f":172686,"v":5.92},{"s":"**705 hrs","f":173611,"v":4.97},{"s":"**705 hrs","f":174537,"v":4.56},{"s":"**705 hrs","f":175926,"v":3.83},{"s":"**705 hrs","f":176852,"v":4.18},{"s":"**705 hrs","f":177778,"v":3.51},{"s":"**705 hrs","f":178704,"v":3.83},{"s":"**705 hrs","f":179630,"v":3.51},{"s":"**705 hrs","f":180556,"v":2.94},{"s":"**705 hrs","f":181482,"v":3.21},{"s":"**705 hrs","f":182408,"v":4.18},{"s":"**705 hrs","f":183334,"v":4.56},{"s":"**705 hrs","f":184260,"v":3.83},{"s":"**705 hrs","f":185186,"v":3.21},{"s":"**705 hrs","f":186111,"v":3.51},{"s":"**705 hrs","f":187037,"v":3.83},{"s":"**705 hrs","f":187963,"v":3.21},{"s":"**705 hrs","f":188889,"v":2.94},{"s":"**705 hrs","f":189815,"v":3.21},{"s":"**705 hrs","f":190741,"v":2.94},{"s":"**705 hrs","f":191667,"v":2.94},{"s":"**705 hrs","f":192593,"v":2.7},{"s":"**705 hrs","f":193519,"v":2.94},{"s":"**705 hrs","f":194445,"v":2.48},{"s":"**705 hrs","f":195371,"v":3.21},{"s":"**705 hrs","f":196297,"v":3.51},{"s":"**705 hrs","f":197223,"v":1.91},{"s":"**705 hrs","f":198149,"v":2.27},{"s":"**705 hrs","f":199074,"v":2.27},{"s":"**705 hrs","f":200000,"v":2.48},
{"s":"1174 hrs","f":1852,"v":231},{"s":"1174 hrs","f":1944,"v":658},{"s":"1174 hrs","f":2778,"v":425},{"s":"1174 hrs","f":3704,"v":252},{"s":"1174 hrs","f":4630,"v":149},{"s":"1174 hrs","f":5556,"v":105},{"s":"1174 hrs","f":6481,"v":88.5},{"s":"1174 hrs","f":7407,"v":62.4},{"s":"1174 hrs","f":8102,"v":52.5},{"s":"1174 hrs","f":8796,"v":57.2},{"s":"1174 hrs","f":9722,"v":68.1},{"s":"1174 hrs","f":10648,"v":62.4},{"s":"1174 hrs","f":11343,"v":52.5},{"s":"1174 hrs","f":12037,"v":74.3},{"s":"1174 hrs","f":12963,"v":68.1},{"s":"1174 hrs","f":13889,"v":74.3},{"s":"1174 hrs","f":14352,"v":37},{"s":"1174 hrs","f":14815,"v":48.1},{"s":"1174 hrs","f":15741,"v":62.4},{"s":"1174 hrs","f":16667,"v":74.3},{"s":"1174 hrs","f":17593,"v":68.1},{"s":"1174 hrs","f":18519,"v":81.1},{"s":"1174 hrs","f":19444,"v":74.3},{"s":"1174 hrs","f":20370,"v":81.1},{"s":"1174 hrs","f":21296,"v":88.5},{"s":"1174 hrs","f":22222,"v":105},{"s":"1174 hrs","f":23148,"v":149},{"s":"1174 hrs","f":24074,"v":194},{"s":"1174 hrs","f":25000,"v":231},{"s":"1174 hrs","f":25926,"v":212},{"s":"1174 hrs","f":26852,"v":212},{"s":"1174 hrs","f":27778,"v":178},{"s":"1174 hrs","f":28241,"v":149},{"s":"1174 hrs","f":29167,"v":300},{"s":"1174 hrs","f":30093,"v":552},{"s":"1174 hrs","f":30556,"v":658},{"s":"1174 hrs","f":31481,"v":602},{"s":"1174 hrs","f":32407,"v":357},{"s":"1174 hrs","f":32870,"v":425},{"s":"1174 hrs","f":33333,"v":1020},{"s":"1174 hrs","f":34259,"v":1020},{"s":"1174 hrs","f":35648,"v":1110},{"s":"1174 hrs","f":36574,"v":1020},{"s":"1174 hrs","f":37500,"v":1210},{"s":"1174 hrs","f":38426,"v":1320},{"s":"1174 hrs","f":39352,"v":1570},{"s":"1174 hrs","f":40277,"v":1320},{"s":"1174 hrs","f":40740,"v":1020},{"s":"1174 hrs","f":41203,"v":718},{"s":"1174 hrs","f":41666,"v":507},{"s":"1174 hrs","f":42361,"v":552},{"s":"1174 hrs","f":43055,"v":552},{"s":"1174 hrs","f":43981,"v":602},{"s":"1174 hrs","f":44907,"v":507},{"s":"1174 hrs","f":45601,"v":658},{"s":"1174 hrs","f":46064,"v":507},{"s":"1174 hrs","f":46759,"v":231},{"s":"1174 hrs","f":47222,"v":425},{"s":"1174 hrs","f":47916,"v":602},{"s":"1174 hrs","f":48611,"v":425},{"s":"1174 hrs","f":49305,"v":252},{"s":"1174 hrs","f":50000,"v":327},{"s":"1174 hrs","f":50926,"v":212},{"s":"1174 hrs","f":51852,"v":137},{"s":"1174 hrs","f":52777,"v":212},{"s":"1174 hrs","f":53703,"v":252},{"s":"1174 hrs","f":54629,"v":178},{"s":"1174 hrs","f":55555,"v":149},{"s":"1174 hrs","f":56481,"v":194},{"s":"1174 hrs","f":57407,"v":178},{"s":"1174 hrs","f":58333,"v":125},{"s":"1174 hrs","f":59259,"v":62.4},{"s":"1174 hrs","f":60185,"v":88.5},{"s":"1174 hrs","f":61111,"v":115},{"s":"1174 hrs","f":62037,"v":137},{"s":"1174 hrs","f":62963,"v":163},{"s":"1174 hrs","f":63889,"v":194},{"s":"1174 hrs","f":64814,"v":149},{"s":"1174 hrs","f":65740,"v":178},{"s":"1174 hrs","f":66435,"v":115},{"s":"1174 hrs","f":67593,"v":88.3},{"s":"1174 hrs","f":68519,"v":125},{"s":"1174 hrs","f":69445,"v":178},{"s":"1174 hrs","f":70371,"v":137},{"s":"1174 hrs","f":71297,"v":68.1},{"s":"1174 hrs","f":72223,"v":105},{"s":"1174 hrs","f":73149,"v":149},{"s":"1174 hrs","f":74074,"v":115},{"s":"1174 hrs","f":75000,"v":115},{"s":"1174 hrs","f":75926,"v":96.4},{"s":"1174 hrs","f":76852,"v":115},{"s":"1174 hrs","f":77778,"v":137},{"s":"1174 hrs","f":78704,"v":149},{"s":"1174 hrs","f":79630,"v":88.3},{"s":"1174 hrs","f":80556,"v":81},{"s":"1174 hrs","f":81482,"v":74.3},{"s":"1174 hrs","f":82408,"v":68.1},{"s":"1174 hrs","f":83334,"v":62.4},{"s":"1174 hrs","f":84260,"v":74.3},{"s":"1174 hrs","f":85186,"v":48},{"s":"1174 hrs","f":85648,"v":37},{"s":"1174 hrs","f":86112,"v":52.4},{"s":"1174 hrs","f":87037,"v":62.4},{"s":"1174 hrs","f":87963,"v":44},{"s":"1174 hrs","f":88889,"v":26.1},{"s":"1174 hrs","f":89583,"v":21.9},{"s":"1174 hrs","f":90278,"v":33.9},{"s":"1174 hrs","f":91204,"v":48},{"s":"1174 hrs","f":92130,"v":57.2},{"s":"1174 hrs","f":93056,"v":44},{"s":"1174 hrs","f":93982,"v":33.9},{"s":"1174 hrs","f":94676,"v":18.4},{"s":"1174 hrs","f":95371,"v":31},{"s":"1174 hrs","f":96297,"v":40.3},{"s":"1174 hrs","f":97223,"v":16.9},{"s":"1174 hrs","f":98149,"v":15.5},{"s":"1174 hrs","f":99074,"v":20.1},{"s":"1174 hrs","f":100000,"v":26.1},{"s":"1174 hrs","f":100926,"v":33.9},{"s":"1174 hrs","f":101852,"v":44},{"s":"1174 hrs","f":102778,"v":37},{"s":"1174 hrs","f":103704,"v":28.5},{"s":"1174 hrs","f":104630,"v":20.1},{"s":"1174 hrs","f":105556,"v":14.2},{"s":"1174 hrs","f":106481,"v":18.4},{"s":"1174 hrs","f":107407,"v":15.5},{"s":"1174 hrs","f":108333,"v":21.9},{"s":"1174 hrs","f":109259,"v":14.2},{"s":"1174 hrs","f":110185,"v":16.9},{"s":"1174 hrs","f":111111,"v":20.1},{"s":"1174 hrs","f":112037,"v":18.4},{"s":"1174 hrs","f":112963,"v":20.1},{"s":"1174 hrs","f":113889,"v":23.9},{"s":"1174 hrs","f":114815,"v":21.9},{"s":"1174 hrs","f":115741,"v":18.4},{"s":"1174 hrs","f":116204,"v":28.5},{"s":"1174 hrs","f":117130,"v":23.9},{"s":"1174 hrs","f":118056,"v":21.9},{"s":"1174 hrs","f":118982,"v":18.4},{"s":"1174 hrs","f":119907,"v":16.9},{"s":"1174 hrs","f":120833,"v":15.5},{"s":"1174 hrs","f":121759,"v":16.9},{"s":"1174 hrs","f":122685,"v":26.1},{"s":"1174 hrs","f":123611,"v":21.9},{"s":"1174 hrs","f":124537,"v":16.9},{"s":"1174 hrs","f":125463,"v":15.5},{"s":"1174 hrs","f":126389,"v":23.9},{"s":"1174 hrs","f":127315,"v":26.1},{"s":"1174 hrs","f":128241,"v":18.4},{"s":"1174 hrs","f":129167,"v":10},{"s":"1174 hrs","f":130093,"v":13},{"s":"1174 hrs","f":131019,"v":14.2},{"s":"1174 hrs","f":132408,"v":13},{"s":"1174 hrs","f":133333,"v":9.98},{"s":"1174 hrs","f":134259,"v":9.98},{"s":"1174 hrs","f":135185,"v":10.9},{"s":"1174 hrs","f":136111,"v":10.9},{"s":"1174 hrs","f":137037,"v":9.98},{"s":"1174 hrs","f":137963,"v":8.39},{"s":"1174 hrs","f":138889,"v":8.39},{"s":"1174 hrs","f":139815,"v":7.69},{"s":"1174 hrs","f":140741,"v":7.05},{"s":"1174 hrs","f":141667,"v":6.46},{"s":"1174 hrs","f":142361,"v":3.66},{"s":"1174 hrs","f":143056,"v":7.69},{"s":"1174 hrs","f":143982,"v":9.98},{"s":"1174 hrs","f":144907,"v":7.69},{"s":"1174 hrs","f":145833,"v":8.39},{"s":"1174 hrs","f":146759,"v":9.16},{"s":"1174 hrs","f":147685,"v":7.05},{"s":"1174 hrs","f":148611,"v":4.56},{"s":"1174 hrs","f":149537,"v":5.92},{"s":"1174 hrs","f":150463,"v":8.39},{"s":"1174 hrs","f":151389,"v":6.46},{"s":"1174 hrs","f":152083,"v":3.51},{"s":"1174 hrs","f":152778,"v":4.56},{"s":"1174 hrs","f":153704,"v":5.92},{"s":"1174 hrs","f":154630,"v":4.56},{"s":"1174 hrs","f":155556,"v":3.51},{"s":"1174 hrs","f":156481,"v":4.97},{"s":"1174 hrs","f":157407,"v":5.92},{"s":"1174 hrs","f":158333,"v":7.05},{"s":"1174 hrs","f":159259,"v":6.46},{"s":"1174 hrs","f":160185,"v":3.51},{"s":"1174 hrs","f":161111,"v":4.97},{"s":"1174 hrs","f":162037,"v":5.92},{"s":"1174 hrs","f":162963,"v":7.05},{"s":"1174 hrs","f":163889,"v":4.97},{"s":"1174 hrs","f":164815,"v":4.56},{"s":"1174 hrs","f":165741,"v":4.97},{"s":"1174 hrs","f":166667,"v":4.18},{"s":"1174 hrs","f":167593,"v":5.42},{"s":"1174 hrs","f":168519,"v":4.97},{"s":"1174 hrs","f":169445,"v":4.18},{"s":"1174 hrs","f":170371,"v":3.21},{"s":"1174 hrs","f":171297,"v":2.7},{"s":"1174 hrs","f":172223,"v":2.94},{"s":"1174 hrs","f":173148,"v":4.18},{"s":"1174 hrs","f":174074,"v":2.94},{"s":"1174 hrs","f":175000,"v":3.83},{"s":"1174 hrs","f":175926,"v":4.18},{"s":"1174 hrs","f":176852,"v":4.18},{"s":"1174 hrs","f":177778,"v":1.91},{"s":"1174 hrs","f":178704,"v":1.47},{"s":"1174 hrs","f":179630,"v":1.91},{"s":"1174 hrs","f":180556,"v":2.94},{"s":"1174 hrs","f":181482,"v":1.47},{"s":"1174 hrs","f":182408,"v":2.08},{"s":"1174 hrs","f":183334,"v":3.21},{"s":"1174 hrs","f":184260,"v":3.83},{"s":"1174 hrs","f":185186,"v":3.21},{"s":"1174 hrs","f":186111,"v":2.7},{"s":"1174 hrs","f":187037,"v":1.91},{"s":"1174 hrs","f":187963,"v":2.27},{"s":"1174 hrs","f":188889,"v":1.91},{"s":"1174 hrs","f":189815,"v":2.48},{"s":"1174 hrs","f":190741,"v":2.27},{"s":"1174 hrs","f":191667,"v":2.08},{"s":"1174 hrs","f":192593,"v":1.75},{"s":"1174 hrs","f":193519,"v":1.47},{"s":"1174 hrs","f":194445,"v":1.6},{"s":"1174 hrs","f":195371,"v":1.47},{"s":"1174 hrs","f":196297,"v":1.6},{"s":"1174 hrs","f":197223,"v":1.75},{"s":"1174 hrs","f":198149,"v":1.47},{"s":"1174 hrs","f":199074,"v":1.91},{"s":"1174 hrs","f":200000,"v":2.27},
{"s":"1174 hrs","k":"p","f":0,"v":1950000},{"s":"1174 hrs","k":"p","f":278,"v":950000},{"s":"1174 hrs","k":"p","f":556,"v":350000},{"s":"1174 hrs","k":"p","f":833,"v":79000},{"s":"1174 hrs","k":"p","f":972,"v":26000}
]},
"resolve":{"axis":{"x":"independent","y":"independent"}},
"layer":[
{"data":{"name":"grid"},"mark":{"type":"rule","stroke":"#efefef","strokeWidth":1},
 "encoding":{"x":{"field":"g","type":"quantitative","scale":{"domain":[0,200000],"nice":false,"zero":false},
   "axis":{"orient":"top","values":[0,20000,40000,60000,80000,100000,120000,140000,160000,180000,200000],"labels":false,"grid":false,"tickSize":-14,"title":null}},
  "y":{"datum":9800000,"type":"quantitative","scale":{"type":"log","domain":[0.001,10000000],"nice":false},
   "axis":{"orient":"right","values":[0.01,1,100,10000,1000000],"labels":false,"grid":false,"tickSize":-14,"title":null}},
  "y2":{"datum":0.00102}}},
{"data":{"name":"psd"},"mark":{"type":"line","strokeWidth":1.8,"clip":true},
 "encoding":{
  "x":{"field":"f","type":"quantitative","scale":{"domain":[0,200000],"nice":false,"zero":false},
   "axis":{"values":[0,20000,40000,60000,80000,100000,120000,140000,160000,180000,200000],"labelExpr":"format(datum.value/100000,'.1~f')","labelFontSize":32,"labelBaseline":"alphabetic","labelPadding":58,"labelFlush":false,"labelOverlap":false,"labelBound":false,"tickSize":-14,"grid":true,"title":"Freq, Hz","titleFontSize":46,"titleX":720,"titleY":97,"titleBaseline":"alphabetic","titleAlign":"center"}},
  "y":{"field":"v","type":"quantitative","scale":{"type":"log","domain":[0.001,10000000],"nice":false},
   "axis":{"values":[0.01,1,100,10000,1000000],"labelExpr":"datum.value < 0.1 ? '10⁻²' : datum.value < 10 ? '10⁰' : datum.value < 1000 ? '10²' : datum.value < 100000 ? '10⁴' : '10⁶'","labelFontSize":33,"labelPadding":25,"labelOffset":5,"labelFlush":false,"labelOverlap":false,"tickSize":-14,"grid":true,"title":"PSD Id (arb Unit/Hz)","titleFontSize":46,"titleX":-95,"titleY":440,"titleAngle":-90,"titleBaseline":"middle","titleAlign":"center"}},
  "color":{"field":"s","type":"nominal","scale":{"domain":["0 hrs","307 hrs","*567 hrs","**567","**705 hrs","1174 hrs"],"range":["#000000","#26e0e0","#ee22ee","#2222c0","#000000","#2ee02e"]},
   "legend":{"title":null,"orient":"none","legendX":1167,"legendY":15}},
  "strokeDash":{"field":"s","type":"nominal","scale":{"domain":["0 hrs","307 hrs","*567 hrs","**567","**705 hrs","1174 hrs"],"range":[[1,0],[1,0],[1,0],[1,0],[1.5,2.5],[1,0]]},
   "legend":{"title":null,"orient":"none","legendX":1167,"legendY":15}},
  "detail":{"field":"k","type":"nominal"}
 }},
{"data":{"name":"note"},"mark":{"type":"text","align":"right","baseline":"alphabetic","dy":96,"font":"Liberation Serif","fontSize":34,"color":"#262626"},
 "encoding":{"x":{"datum":200000,"type":"quantitative","scale":{"domain":[0,200000],"nice":false,"zero":false},"axis":null},
  "y":{"datum":0.001,"type":"quantitative","scale":{"type":"log","domain":[0.001,10000000],"nice":false},"axis":null},
  "text":{"field":"t"}}}
],
"config":{
 "view":{"stroke":"#262626","strokeWidth":1},
 "axis":{"labelFont":"Liberation Serif","labelFontWeight":"bold","labelColor":"#262626","titleFont":"Liberation Serif","titleFontWeight":"bold","titleColor":"#111111","domain":false,"tickColor":"#262626","tickWidth":1,"gridColor":"#dadada","gridWidth":1},
 "legend":{"symbolType":"stroke","symbolSize":1936,"symbolStrokeWidth":1.5,"labelFont":"Liberation Serif","labelFontWeight":"bold","labelFontSize":44,"labelColor":"#000000","labelLimit":500,"strokeColor":"#444444","fillColor":"#ffffff","padding":6,"rowPadding":11,"labelOffset":4,"cornerRadius":0}
}
}
